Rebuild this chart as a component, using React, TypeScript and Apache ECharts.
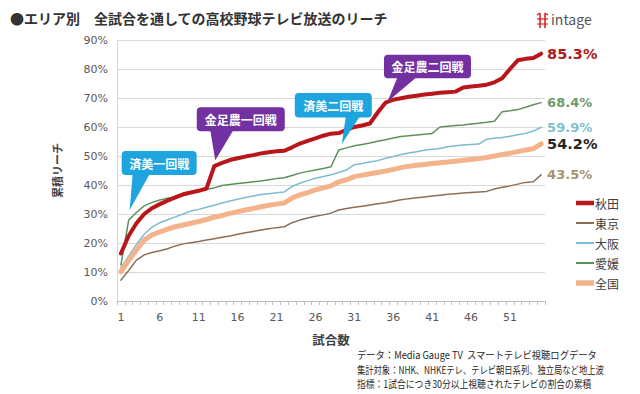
import { useEffect, useRef } from "react";
import * as echarts from "echarts";

const games = [
  "1","2","3","4","5","6","7","8","9","10","11","12","13","14","15","16","17","18","19","20",
  "21","22","23","24","25","26","27","28","29","30","31","32","33","34","35","36","37","38","39","40",
  "41","42","43","44","45","46","47","48","49","50","51","52","53","54","55",
];
const yTicks = [0, 10, 20, 30, 40, 50, 60, 70, 80, 90];

const akita = [
  16.4, 22.5, 26.8, 30.0, 32.0, 33.4, 34.6, 35.7, 36.8, 37.4, 38.0, 38.8, 46.5, 47.6, 48.6, 49.2, 49.8, 50.3, 50.9, 51.3,
  51.6, 51.8, 53.0, 54.3, 55.2, 56.1, 57.0, 57.7, 57.9, 59.0, 60.0, 60.5, 61.2, 65.0, 68.4, 69.4, 69.9, 70.4, 70.8, 71.2,
  71.5, 71.8, 72.0, 72.2, 73.6, 74.0, 74.2, 74.6, 75.4, 76.8, 80.0, 83.0, 83.5, 83.8, 85.3,
];
const tokyo = [
  7.2, 10.5, 14.1, 15.9, 16.7, 17.3, 18.0, 19.0, 19.7, 20.1, 20.5, 21.0, 21.5, 22.0, 22.4, 23.0, 23.5, 24.0, 24.5, 24.9,
  25.3, 25.6, 27.0, 27.9, 28.6, 29.2, 29.7, 30.3, 31.4, 31.9, 32.3, 32.7, 33.1, 33.5, 33.9, 34.4, 34.9, 35.3, 35.6, 35.9,
  36.2, 36.5, 36.8, 37.0, 37.2, 37.4, 37.6, 37.8, 38.6, 39.2, 39.7, 40.3, 40.9, 41.1, 43.5,
];
const osaka = [
  11.5, 15.5, 19.5, 23.0, 25.5, 27.0, 28.0, 29.0, 30.0, 31.0, 31.6, 32.3, 33.0, 33.8, 34.5, 35.1, 35.7, 36.2, 36.7, 37.0,
  37.3, 37.6, 39.5, 40.6, 41.5, 42.3, 42.9, 43.5, 44.3, 45.2, 47.0, 47.4, 47.9, 48.4, 49.2, 49.8, 50.5, 51.0, 51.5, 52.0,
  52.3, 52.6, 53.2, 53.5, 53.8, 54.0, 54.1, 55.8, 56.1, 56.4, 56.8, 57.3, 57.8, 58.6, 59.9,
];
const ehime = [
  12.4, 27.9, 30.5, 32.8, 34.0, 34.8, 35.4, 35.9, 36.4, 37.3, 38.2, 38.5, 39.0, 39.8, 40.2, 40.5, 40.8, 41.1, 41.4, 41.8,
  42.2, 42.5, 43.3, 44.1, 44.7, 45.2, 45.7, 46.3, 52.1, 52.8, 53.5, 54.0, 54.5, 55.1, 55.6, 56.2, 56.7, 57.0, 57.2, 57.5,
  57.8, 60.0, 60.3, 60.5, 60.7, 61.0, 61.3, 61.6, 62.0, 65.3, 65.6, 66.0, 66.8, 67.7, 68.4,
];
const zenkoku = [
  10.1, 14.0, 17.6, 21.0, 22.8, 23.8, 24.8, 25.6, 26.2, 26.8, 27.4, 28.1, 28.9, 29.5, 30.2, 30.8, 31.4, 31.9, 32.5, 33.0,
  33.4, 33.8, 35.5, 36.6, 37.4, 38.3, 39.0, 39.7, 41.1, 41.8, 42.9, 43.4, 43.9, 44.3, 44.8, 45.4, 46.0, 46.5, 46.8, 47.1,
  47.4, 47.7, 47.9, 48.2, 48.5, 48.8, 49.1, 49.5, 50.0, 50.5, 51.0, 51.5, 52.1, 52.5, 54.2,
];

const seriesNames = ["秋田", "東京", "大阪", "愛媛", "全国"];
const seriesData = [akita, tokyo, osaka, ehime, zenkoku];
const seriesColors = ["#B8161B", "#8C6E56", "#7DBBD0", "#5F8F5C", "#F4B38A"];
const seriesWidths = [4, 1.5, 1.5, 1.5, 5];
const endLabelTexts = ["85.3%", "43.5%", "59.9%", "68.4%", "54.2%"];
const endLabelColors = ["#B01A1E", "#A8916F", "#7FC0D0", "#6E9A6C", "#262626"];
const endLabelSizes = [14.5, 13, 13, 13, 14.5];

// callouts anchored to a series point
const callouts = [
  { s: 3, i: 1, text: "済美一回戦", color: "#1EA5DF", box: [-7, -69, 75, 24], base: [4, 21], tip: [1, -10] },
  { s: 0, i: 12, text: "金足農一回戦", color: "#7230A0", box: [-17.5, -59, 88, 24], base: [-4, 19], tip: [1, -6] },
  { s: 3, i: 28, text: "済美二回戦", color: "#1EA5DF", box: [-44, -57, 77, 24.5], base: [7, 21], tip: [3, -6] },
  { s: 0, i: 34, text: "金足農二回戦", color: "#7230A0", box: [-1.5, -48, 87, 23.5], base: [12, 31], tip: [2, -1] },
];

const notes = [
  "データ：Media Gauge TV  スマートテレビ視聴ログデータ",
  "集計対象：NHK、NHKEテレ、テレビ朝日系列、独立局など地上波",
  "指標：1試合につき30分以上視聴されたテレビの割合の累積",
];
const noteScales = [0.93, 0.83, 0.88];

const JP = '"Noto Sans CJK JP", "Noto Sans", sans-serif';
const NUM = '"DejaVu Sans", "Noto Sans", sans-serif';

export default function App() {
  const ref = useRef<HTMLDivElement>(null);
  useEffect(() => {
    if (!ref.current) return;
    const chart = echarts.init(ref.current, null, { renderer: "svg" });
    chart.setOption({
      animation: false,
      backgroundColor: "#ffffff",
      grid: { left: 117, right: 95, top: 40, bottom: 93, containLabel: false },
      legend: {
        orient: "vertical",
        left: 571,
        top: 191,
        itemWidth: 18,
        itemHeight: 14,
        itemGap: 6,
        data: seriesNames.map((n, k) => ({
          name: n,
          icon: `path://M0,0 L18,0 L18,${seriesWidths[k] + 0.5} L0,${seriesWidths[k] + 0.5} Z`,
        })),
        textStyle: { fontFamily: JP, fontSize: 12, color: "#404040", padding: [0, 0, 0, -4], lineHeight: 14 },
      },
      xAxis: {
        type: "category",
        data: games,
        boundaryGap: true,
        name: "試合数",
        nameLocation: "middle",
        nameGap: 32,
        nameTextStyle: { fontFamily: JP, fontSize: 12.5, fontWeight: "bold", color: "#404040" },
        axisLine: { lineStyle: { color: "#BFBFBF", width: 1 } },
        axisTick: { show: true, interval: 0, length: 4, lineStyle: { color: "#BFBFBF" } },
        axisLabel: { interval: 4, margin: 11, fontFamily: NUM, fontSize: 11, color: "#595959" },
        splitLine: { show: false },
      },
      yAxis: {
        type: "value",
        min: yTicks[0],
        max: yTicks[yTicks.length - 1],
        interval: 10,
        name: "累積リーチ",
        nameLocation: "middle",
        nameGap: 55,
        nameRotate: 90,
        nameTextStyle: { fontFamily: JP, fontSize: 11, fontWeight: "bold", color: "#404040" },
        axisLine: { show: true, lineStyle: { color: "#D9D9D9" } },
        axisTick: { show: false },
        axisLabel: { formatter: "{value}%", margin: 9, fontFamily: NUM, fontSize: 11, color: "#595959" },
        splitLine: { lineStyle: { color: "#D9D9D9", width: 1 } },
      },
      series: seriesNames.map((n, k) => ({
        name: n,
        type: "line",
        data: seriesData[k],
        symbol: "none",
        smooth: false,
        z: k === 0 ? 5 : 3,
        lineStyle: { color: seriesColors[k], width: seriesWidths[k], join: "round", cap: "round" },
        itemStyle: { color: seriesColors[k] },
        endLabel: {
          show: true,
          formatter: endLabelTexts[k],
          distance: 6,
          color: endLabelColors[k],
          fontFamily: NUM,
          fontWeight: "bold",
          fontSize: endLabelSizes[k],
        },
      })),
    });

    const gfx: any[] = [
      {
        type: "text",
        left: 10,
        top: 11,
        style: { text: "●エリア別　全試合を通しての高校野球テレビ放送のリーチ", font: `bold 14px ${JP}`, fill: "#333333" },
      },
      // intage logo
      { type: "line", shape: { x1: 540, y1: 13, x2: 540, y2: 28 }, style: { stroke: "#D7191C", lineWidth: 1.5 } },
      { type: "line", shape: { x1: 545, y1: 13, x2: 545, y2: 28 }, style: { stroke: "#D7191C", lineWidth: 1.5 } },
      { type: "line", shape: { x1: 537, y1: 19, x2: 548, y2: 19 }, style: { stroke: "#D7191C", lineWidth: 1.2 } },
      { type: "line", shape: { x1: 537, y1: 15, x2: 540, y2: 13 }, style: { stroke: "#D7191C", lineWidth: 1.2 } },
      { type: "line", shape: { x1: 548, y1: 15, x2: 545, y2: 13 }, style: { stroke: "#D7191C", lineWidth: 1.2 } },
      { type: "line", shape: { x1: 537, y1: 24, x2: 548, y2: 24 }, style: { stroke: "#D7191C", lineWidth: 1 } },
      {
        type: "text",
        x: 551,
        y: 19,
        style: { text: "intage", font: `14px ${JP}`, fill: "#555555", verticalAlign: "middle" },
      },
      ...notes.map((t, k) => ({
        type: "text",
        x: 357,
        y: 355 + k * 14.5,
        scaleX: noteScales[k],
        style: { text: t, font: `10px ${JP}`, fill: "#262626", verticalAlign: "middle" },
      })),
    ];

    callouts.forEach((c) => {
      const p = chart.convertToPixel({ seriesIndex: c.s }, [c.i, seriesData[c.s][c.i]]) as number[];
      const [bx, by, bw, bh] = c.box;
      const left = p[0] + bx;
      const top = p[1] + by;
      gfx.push({
        type: "polygon",
        z: 20,
        shape: {
          points: [
            [p[0] + c.base[0], top + bh - 1],
            [p[0] + c.base[1], top + bh - 1],
            [p[0] + c.tip[0], p[1] + c.tip[1]],
          ],
        },
        style: { fill: c.color },
      });
      gfx.push({
        type: "rect",
        z: 20,
        shape: { x: left, y: top, width: bw, height: bh, r: 4 },
        style: { fill: c.color },
      });
      gfx.push({
        type: "text",
        z: 21,
        x: left + bw / 2,
        y: top + bh / 2,
        style: {
          text: c.text,
          font: `bold 12px ${JP}`,
          fill: "#ffffff",
          align: "center",
          verticalAlign: "middle",
        },
      });
    });

    chart.setOption({ graphic: gfx });
    return () => chart.dispose();
  }, []);

  return (
    <div
      ref={ref}
      style={{ position: "fixed", left: 0, top: 0, width: 640, height: 394, background: "#fff" }}
    />
  );
}
